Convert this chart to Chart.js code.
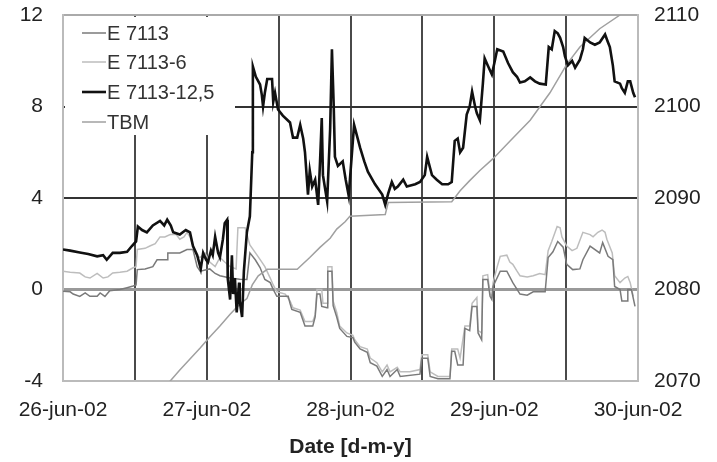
<!DOCTYPE html>
<html><head><meta charset="utf-8">
<script src="https://cdn.jsdelivr.net/npm/chart.js@4/dist/chart.umd.min.js"></script>
<style>html,body{margin:0;padding:0;background:#fff}</style>
</head><body>
<canvas id="c" width="717" height="462" style="display:block;width:717px;height:462px"></canvas>
<script>
// ---- data (x = hours since 26-jun-02 00:00) ----
const dateLabels = ['26-jun-02','27-jun-02','28-jun-02','29-jun-02','30-jun-02'];
const seriesNames = ['E 7113','E 7113-6','E 7113-12,5','TBM'];

const tE7113 = [0,1.2,1.7,2.8,3.7,4.5,5.7,6.2,7.0,7.8,9.5,10.7,11.7,12.2,12.4,13.7,15.0,15.7,17.4,17.5,19.5,20.7,21.7,22.4,22.9,24.5,25.4,26.2,27.9,29.5,30.7,31.2,32.1,32.9,33.7,34.6,35.1,35.7,37.6,37.9,38.2,39.6,40.4,41.7,42.1,42.4,42.9,43.2,44.1,44.2,44.9,45.1,45.7,46.2,47.4,48.4,48.7,49.6,50.8,51.3,52.4,53.3,54.1,54.6,55.8,56.3,59.6,59.9,60.9,61.3,62.6,64.6,64.9,65.4,65.9,66.8,67.1,67.9,68.3,69.1,69.3,69.9,70.1,70.9,71.3,71.6,71.8,73.0,74.1,75.1,76.3,77.5,78.5,80.5,81.0,81.8,82.6,83.5,84.1,85.1,86.3,86.8,88.0,89.6,90.1,91.0,91.8,92.1,93.0,93.3,94.2,94.3,94.9,95.5];
const vE7113 = [-0.08,-0.1,-0.2,-0.3,-0.15,-0.3,-0.3,-0.15,-0.3,-0.05,0.0,0.08,0.15,0.2,0.87,0.9,1.0,1.3,1.3,1.6,1.6,1.75,1.75,1.0,0.8,0.9,0.7,0.6,0.5,0.45,0.44,1.6,1.3,0.96,0.44,0.3,0.0,-0.3,-0.3,-0.6,-0.87,-1.0,-1.6,-1.6,-1.2,-0.2,-0.2,-0.74,-0.8,0.8,0.8,-0.7,-1.2,-1.7,-2.05,-2.1,-2.3,-2.6,-2.75,-3.2,-3.35,-3.8,-3.5,-3.8,-3.5,-3.8,-3.7,-3.0,-3.0,-3.8,-3.9,-3.9,-2.7,-2.7,-3.3,-3.3,-1.7,-1.8,-0.74,-0.74,-1.9,-2.2,0.44,0.44,-0.3,-0.44,0.13,0.8,0.8,0.3,-0.2,-0.25,-0.1,-0.1,1.4,1.65,2.1,1.85,1.1,0.87,0.9,1.3,1.9,1.6,2.05,1.45,1.3,0.13,0.0,-0.5,-0.5,0.0,0.0,-0.74];

const tE7113_6 = [0,1.2,2.8,3.7,4.5,5.7,6.7,7.5,8.3,9.5,10.7,11.7,12.2,12.4,13.7,14.5,15.4,16.2,17.0,17.9,18.9,19.5,20.2,20.7,21.2,21.7,22.4,22.9,23.7,24.5,25.4,26.2,27.0,27.9,28.9,29.2,30.4,31.2,32.4,33.2,33.7,34.6,35.1,35.7,37.1,37.9,38.4,39.6,40.4,41.7,42.1,42.4,43.2,43.4,44.1,44.2,44.9,45.1,45.7,46.2,47.4,48.4,48.7,49.6,50.8,51.3,52.4,53.3,54.1,54.6,55.8,56.3,57.9,59.6,59.9,60.9,61.3,62.6,64.6,64.9,65.9,66.3,67.1,67.9,68.3,69.1,69.3,69.9,70.1,70.9,71.3,71.6,71.8,72.5,73.0,74.1,74.6,75.1,75.8,76.3,77.5,78.5,79.6,80.5,81.0,81.6,82.5,83.0,83.3,84.1,85.0,85.8,86.8,88.0,88.5,89.3,90.0,90.5,90.8,91.7,92.1,93.0,93.8,94.3,94.7,95.2];
const vE7113_6 = [0.8,0.75,0.72,0.55,0.5,0.7,0.5,0.55,0.72,0.75,0.8,0.95,1.0,1.75,1.8,1.9,2.0,2.3,2.3,2.4,2.4,2.2,2.3,2.5,2.3,1.9,1.45,1.4,1.6,1.2,1.0,1.4,1.2,1.0,0.9,2.7,2.7,1.95,1.5,1.2,1.0,0.5,0.2,-0.1,-0.2,-0.5,-0.8,-0.9,-1.4,-1.4,-1.1,0.0,0.0,-0.6,-0.6,1.0,1.0,-0.5,-1.0,-1.6,-1.9,-2.0,-2.2,-2.5,-2.6,-3.0,-3.2,-3.6,-3.3,-3.6,-3.4,-3.6,-3.6,-3.5,-2.85,-2.85,-3.6,-3.8,-3.8,-2.6,-2.6,-3.0,-1.6,-1.6,-0.6,-0.35,-1.8,-1.9,0.6,0.65,-0.2,-0.3,0.3,1.0,1.45,1.5,1.2,1.1,0.8,0.6,0.55,0.6,0.7,0.65,1.7,2.1,2.75,2.7,2.3,1.9,1.7,1.8,2.5,2.4,2.3,2.5,2.6,2.5,2.2,1.6,0.6,0.3,0.5,0.57,0.3,-0.3];

const tE7113_12 = [0,1.2,2.8,4.2,5.7,6.7,7.3,8.3,9.5,10.7,11.5,12.2,12.5,13.2,14.0,15.0,16.2,16.9,17.4,18.0,18.4,19.5,20.5,21.2,21.7,22.4,23.0,23.4,23.9,24.2,24.7,25.0,25.4,25.9,26.2,26.7,27.0,27.4,27.5,27.9,28.2,28.4,28.7,29.0,29.4,29.5,29.9,30.2,30.7,31.2,31.6,31.7,32.2,32.9,33.2,33.4,33.7,34.1,34.9,35.1,35.4,35.9,36.7,37.9,38.4,39.1,39.6,40.1,40.4,40.9,41.2,41.6,42.1,42.6,42.9,43.2,43.4,43.7,44.1,44.6,44.9,45.2,45.4,45.9,46.7,47.2,47.7,48.6,49.6,50.3,50.9,52.1,53.3,53.8,54.3,54.9,55.4,55.9,56.8,57.4,58.8,59.6,60.4,60.8,61.3,61.6,62.4,63.3,64.3,64.9,65.4,65.9,66.3,66.8,67.4,67.9,68.3,68.8,69.1,69.6,70.1,70.4,70.9,71.6,72.1,72.5,73.5,74.3,75.1,75.8,76.3,77.1,78.0,78.8,79.6,80.6,81.1,81.6,82.1,82.6,83.0,83.5,83.8,84.3,85.0,85.5,86.3,86.8,87.1,88.0,88.8,89.6,90.5,91.0,91.3,91.8,92.1,93.0,93.3,93.8,94.3,94.7,95.2,95.5];
const vE7113_12 = [1.75,1.7,1.62,1.55,1.45,1.5,1.3,1.6,1.6,1.65,1.9,2.1,2.75,2.6,2.5,2.8,3.0,2.8,3.05,2.8,2.5,2.4,2.6,2.5,1.9,1.5,0.9,1.6,1.3,1.2,1.7,1.5,2.3,1.6,1.4,2.2,2.9,3.05,0.5,-0.44,1.5,-0.2,0.5,-1.0,0.3,-0.5,-1.2,0.8,2.5,3.2,6.0,9.75,9.3,8.96,8.5,8.0,8.6,9.2,9.2,8.2,8.6,7.87,7.6,7.3,6.64,6.64,7.2,6.6,6.0,4.15,5.2,4.5,4.8,3.7,5.5,7.5,5.0,4.5,3.85,7.0,10.5,8.0,5.8,5.4,5.6,4.8,4.1,7.2,6.2,5.6,5.15,4.6,4.15,3.7,4.2,4.7,4.4,4.5,4.8,4.5,4.6,4.7,5.0,5.8,5.3,5.0,4.8,4.6,4.6,4.7,6.5,6.6,6.0,6.2,7.65,8.0,8.65,8.0,7.7,7.4,9.0,10.1,9.8,9.4,10.0,10.5,10.4,9.9,9.5,9.3,9.05,9.1,9.27,9.1,9.0,8.96,10.6,10.5,11.3,11.2,11.0,10.6,10.2,9.8,10.0,9.7,10.05,10.5,11.0,10.8,10.7,10.8,11.15,10.8,10.6,9.8,9.1,9.0,8.8,8.6,9.1,9.1,8.6,8.4];

const tTBM = [17.0,17.9,19.5,21.2,22.9,24.5,26.2,27.9,29.5,30.7,31.6,32.6,34.1,39.1,41.2,42.9,44.6,45.7,47.1,47.9,53.8,54.3,64.9,66.3,67.9,69.6,71.8,74.6,78.0,81.3,84.1,86.3,89.6,93.0];
const vTBM = [2069.5,2070,2071.2,2072.4,2073.6,2074.8,2076,2077.3,2078.4,2079,2080.5,2081.5,2082.2,2082.2,2083.5,2084.6,2085.6,2086.6,2087.4,2088.0,2088.2,2089.5,2089.6,2090.8,2091.9,2093,2094.3,2096.2,2098.5,2101.5,2104.6,2106.5,2108.5,2110];

const leftMin = -4, leftMax = 12, leftStep = 4;
const rightMin = 2070, rightMax = 2110, rightStep = 10;

const pts = (t, v) => t.map((x, i) => ({x, y: v[i]}));
const FONT = "'Liberation Sans', Arial, sans-serif";

const legendPlugin = {
  id: 'inlineLegend',
  beforeDatasetsDraw(chart) {
    const {ctx, chartArea} = chart;
    ctx.save();
    ctx.fillStyle = '#fff';
    ctx.fillRect(chartArea.left + 2, chartArea.top + 2, 235 - chartArea.left - 2, 135 - chartArea.top - 2);
    ctx.font = '20px ' + FONT;
    ctx.textBaseline = 'middle';
    ctx.textAlign = 'left';
    const ys = [33, 62, 92, 122];
    chart.data.datasets.forEach((ds, i) => {
      ctx.strokeStyle = ds.borderColor;
      ctx.lineWidth = ds.borderWidth;
      ctx.beginPath();
      ctx.moveTo(82, ys[i]);
      ctx.lineTo(106, ys[i]);
      ctx.stroke();
      ctx.fillStyle = '#333';
      ctx.fillText(ds.label, 107, ys[i] + 1);
    });
    ctx.restore();
  }
};

const noPad = s => { s.paddingTop = 0; s.paddingBottom = 0; s.paddingLeft = 0; s.paddingRight = 0; };

new Chart(document.getElementById('c'), {
  type: 'line',
  data: {
    datasets: [
      {label: seriesNames[0], data: pts(tE7113, vE7113), borderColor: '#7a7a7a', borderWidth: 1.5, yAxisID: 'y', order: 2},
      {label: seriesNames[1], data: pts(tE7113_6, vE7113_6), borderColor: '#bdbdbd', borderWidth: 1.5, yAxisID: 'y', order: 3},
      {label: seriesNames[2], data: pts(tE7113_12, vE7113_12), borderColor: '#111', borderWidth: 2.6, yAxisID: 'y', order: 0},
      {label: seriesNames[3], data: pts(tTBM, vTBM), borderColor: '#a0a0a0', borderWidth: 1.5, yAxisID: 'y1', order: 1}
    ]
  },
  options: {
    responsive: false,
    animation: false,
    layout: {padding: {top: 15, left: 0, right: 0, bottom: 0}},
    elements: {point: {radius: 0}, line: {tension: 0}},
    plugins: {legend: {display: false}, tooltip: {enabled: false}},
    scales: {
      x: {
        type: 'linear', min: 0, max: 96,
        afterFit(s) { s.height = 81; noPad(s); },
        ticks: {
          stepSize: 12, autoSkip: false, maxRotation: 0, padding: 17,
          color: '#222', font: {family: FONT, size: 21},
          callback: v => (v % 24 === 0 ? dateLabels[v / 24] : '')
        },
        grid: {
          drawTicks: false,
          color: c => (c.tick && (c.tick.value === 0 || c.tick.value === 96)) ? '#bbb' : '#4a4a4a',
          lineWidth: 2
        },
        border: {color: '#bbb', width: 2},
        title: {display: true, text: 'Date [d-m-y]', color: '#222', font: {family: FONT, size: 21, weight: 'bold'}, padding: {top: 4, bottom: 2}}
      },
      y: {
        position: 'left', min: leftMin, max: leftMax,
        afterFit(s) { s.width = 63; noPad(s); },
        ticks: {stepSize: leftStep, padding: 20, color: '#222', font: {family: FONT, size: 21}},
        grid: {
          drawTicks: false,
          color: c => {
            const v = c.tick ? c.tick.value : null;
            if (v === 12) return '#aaa';
            if (v === -4) return '#bbb';
            if (v === 0) return '#999';
            return '#333';
          },
          lineWidth: c => (c.tick && c.tick.value === 0 ? 3 : 2)
        },
        border: {color: '#bbb', width: 2}
      },
      y1: {
        position: 'right', min: rightMin, max: rightMax,
        afterFit(s) { s.width = 79; noPad(s); },
        ticks: {stepSize: rightStep, padding: 16, color: '#222', font: {family: FONT, size: 21}, callback: v => String(v)},
        grid: {drawOnChartArea: false, drawTicks: false},
        border: {color: '#bbb', width: 2}
      }
    }
  },
  plugins: [legendPlugin]
});
</script>
</body></html>
